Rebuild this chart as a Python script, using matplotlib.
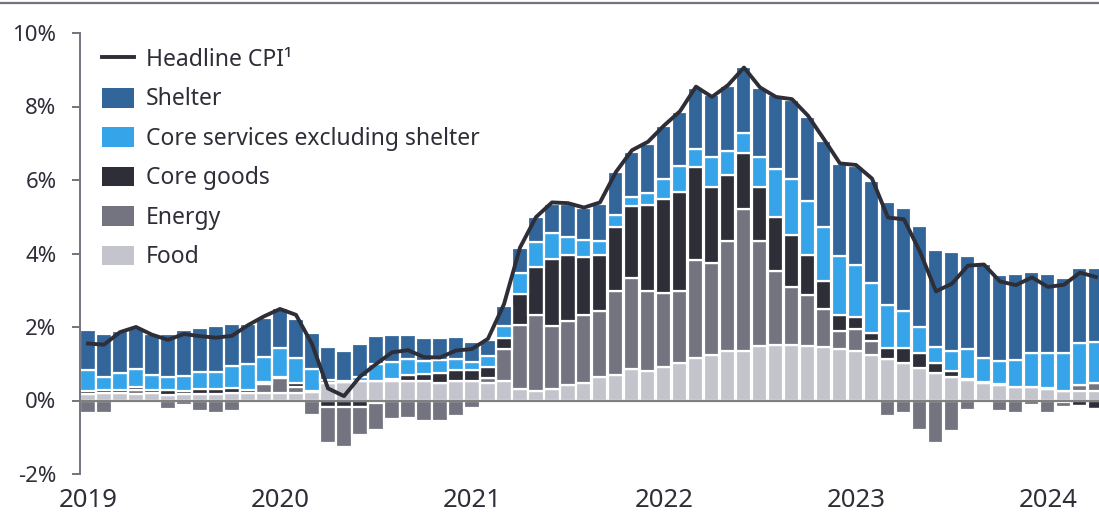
import numpy as np
import matplotlib
matplotlib.use("Agg")
import matplotlib.pyplot as plt
from matplotlib.lines import Line2D
from matplotlib.patches import Patch

plt.rcParams['font.family'] = ['Noto Sans', 'DejaVu Sans']

TEXT = '#2e2e38'
GRAY = '#747480'

# monthly contributions to headline CPI, Jan 2019 - Apr 2024 (percentage points)
years = ['2019', '2020', '2021', '2022', '2023', '2024']

food = [0.17, 0.21, 0.21, 0.17, 0.21, 0.16, 0.17, 0.17, 0.17, 0.21, 0.21, 0.21,
        0.20, 0.20, 0.22, 0.48, 0.50, 0.52, 0.52, 0.52, 0.52, 0.52, 0.47, 0.52,
        0.52, 0.47, 0.52, 0.31, 0.26, 0.31, 0.42, 0.48, 0.63, 0.69, 0.86, 0.81,
        0.92, 1.03, 1.15, 1.25, 1.36, 1.36, 1.47, 1.51, 1.51, 1.47, 1.46, 1.40,
        1.35, 1.24, 1.14, 1.03, 0.88, 0.74, 0.65, 0.56, 0.47, 0.41, 0.36, 0.36,
        0.31, 0.26, 0.26, 0.26]

energy = [-0.35, -0.35, 0.00, 0.12, 0.00, -0.24, -0.13, -0.29, -0.35, -0.29, 0.00, 0.24,
          0.40, 0.16, -0.40, -1.00, -1.10, -0.77, -0.72, -0.50, -0.47, -0.55, -0.56, -0.41,
          -0.20, 0.15, 0.88, 1.74, 2.06, 1.73, 1.73, 1.84, 1.80, 2.30, 2.47, 2.17,
          2.01, 1.96, 2.66, 2.49, 2.99, 3.85, 2.88, 2.02, 1.57, 1.40, 1.03, 0.50,
          0.59, 0.38, -0.41, -0.35, -0.79, -1.15, -0.84, -0.25, 0.00, -0.29, -0.35, -0.13,
          -0.35, -0.15, 0.16, 0.21]

core_goods = [0.10, 0.07, 0.07, 0.07, 0.07, 0.12, 0.10, 0.15, 0.15, 0.12, 0.07, 0.05,
              0.04, 0.12, 0.05, -0.17, -0.17, -0.17, -0.07, 0.06, 0.18, 0.20, 0.29, 0.30,
              0.30, 0.28, 0.31, 0.86, 1.31, 1.81, 1.80, 1.58, 1.53, 1.72, 1.96, 2.34,
              2.56, 2.67, 2.55, 2.07, 1.79, 1.53, 1.46, 1.46, 1.42, 1.08, 0.75, 0.42,
              0.33, 0.22, 0.30, 0.41, 0.40, 0.27, 0.14, 0.03, 0.04, 0.03, 0.02, 0.02,
              0.02, -0.03, -0.14, -0.22]

core_services = [0.57, 0.37, 0.48, 0.51, 0.41, 0.37, 0.40, 0.46, 0.46, 0.60, 0.70, 0.69,
                 0.80, 0.67, 0.58, 0.09, 0.03, 0.12, 0.48, 0.46, 0.44, 0.35, 0.33, 0.31,
                 0.23, 0.30, 0.31, 0.56, 0.67, 0.70, 0.50, 0.48, 0.39, 0.34, 0.24, 0.33,
                 0.54, 0.72, 0.49, 0.82, 0.64, 0.54, 0.82, 1.32, 1.53, 1.49, 1.48, 1.60,
                 1.42, 1.37, 1.16, 1.00, 0.71, 0.44, 0.56, 0.80, 0.66, 0.63, 0.72, 0.90,
                 0.95, 1.02, 1.14, 1.13]

shelter = [1.07, 1.15, 1.13, 1.09, 1.11, 1.15, 1.24, 1.18, 1.24, 1.14, 1.09, 1.05,
           1.07, 1.07, 1.00, 0.88, 0.82, 0.89, 0.75, 0.74, 0.64, 0.62, 0.60, 0.61,
           0.53, 0.44, 0.55, 0.68, 0.68, 0.80, 0.90, 0.86, 1.00, 1.16, 1.24, 1.33,
           1.45, 1.48, 1.65, 1.67, 1.79, 1.79, 1.87, 1.99, 2.15, 2.27, 2.33, 2.52,
           2.70, 2.77, 2.81, 2.80, 2.76, 2.64, 2.68, 2.55, 2.54, 2.34, 2.34, 2.21,
           2.16, 2.05, 2.04, 2.00]

headline = [1.55, 1.52, 1.86, 2.00, 1.79, 1.65, 1.81, 1.75, 1.71, 1.76, 2.05, 2.29,
            2.49, 2.33, 1.54, 0.33, 0.12, 0.65, 0.99, 1.31, 1.37, 1.18, 1.17, 1.36,
            1.40, 1.68, 2.62, 4.16, 4.99, 5.39, 5.37, 5.25, 5.39, 6.22, 6.81, 7.04,
            7.48, 7.87, 8.54, 8.26, 8.58, 9.06, 8.52, 8.26, 8.20, 7.75, 7.11, 6.45,
            6.41, 6.04, 4.98, 4.93, 4.05, 2.97, 3.18, 3.67, 3.70, 3.24, 3.14, 3.35,
            3.09, 3.15, 3.48, 3.36]

series = {
    'Food': (np.array(food), '#c4c4cd'),
    'Energy': (np.array(energy), '#747480'),
    'Core goods': (np.array(core_goods), '#2e2e38'),
    'Core services excluding shelter': (np.array(core_services), '#35a4e8'),
    'Shelter': (np.array(shelter), '#32669a'),
}
pos_order = ['Food', 'Energy', 'Core goods', 'Core services excluding shelter', 'Shelter']
neg_order = ['Core goods', 'Energy']

x = np.arange(len(food))

fig = plt.figure(figsize=(10.99, 5.15), dpi=100)
ax = fig.add_axes([80 / 1099, 41 / 515, 1019 / 1099, 441 / 515])

bar_kw = dict(width=0.94, edgecolor='white', linewidth=1.6, zorder=2)

pos_bottom = np.zeros(len(x))
for name in pos_order:
    vals, col = series[name]
    v = np.where(vals > 0, vals, 0)
    ax.bar(x, v, bottom=pos_bottom, color=col, **bar_kw)
    pos_bottom += v

neg_bottom = np.zeros(len(x))
for name in neg_order:
    vals, col = series[name]
    v = np.where(vals < 0, vals, 0)
    ax.bar(x, v, bottom=neg_bottom, color=col, **bar_kw)
    neg_bottom += v

ax.axhline(0, color='#808080', linewidth=1.6, zorder=3)
ax.plot(x, headline, color=TEXT, linewidth=2.8, zorder=4, solid_joinstyle='round')

ax.set_xlim(-0.5, 63.19)
ax.set_ylim(-2, 10)
ax.set_yticks(np.arange(-2, 11, 2))
ax.set_yticklabels([f'{v}%' for v in range(-2, 11, 2)])
ax.set_xticks(np.arange(0, len(x), 12))
ax.set_xticklabels(years)

for s in ['top', 'right', 'bottom']:
    ax.spines[s].set_visible(False)
ax.spines['left'].set_color(GRAY)
ax.spines['left'].set_linewidth(1.4)
ax.tick_params(axis='y', length=6, width=1.4, color=GRAY, pad=11,
               labelsize=16, labelcolor=TEXT)
ax.tick_params(axis='x', length=0, pad=10, labelsize=18.5, labelcolor=TEXT)

handles = [Line2D([], [], color=TEXT, linewidth=2.8)]
labels = ['Headline CPI\u00b9']
for name in ['Shelter', 'Core services excluding shelter', 'Core goods', 'Energy', 'Food']:
    handles.append(Patch(facecolor=series[name][1], edgecolor='none'))
    labels.append(name)
leg = ax.legend(handles, labels, loc='upper left', bbox_to_anchor=(0.022, 0.966),
                frameon=False, fontsize=16.5, handlelength=1.38, handleheight=0.96,
                handletextpad=0.5, labelspacing=0.675, borderpad=0, borderaxespad=0)
for t in leg.get_texts():
    t.set_color(TEXT)

# thin rule across the top of the figure
fig.add_artist(Line2D([0, 1], [1 - 2.5 / 515, 1 - 2.5 / 515], transform=fig.transFigure,
                      color=GRAY, linewidth=1.6))

fig.savefig('out.png', dpi=100)
